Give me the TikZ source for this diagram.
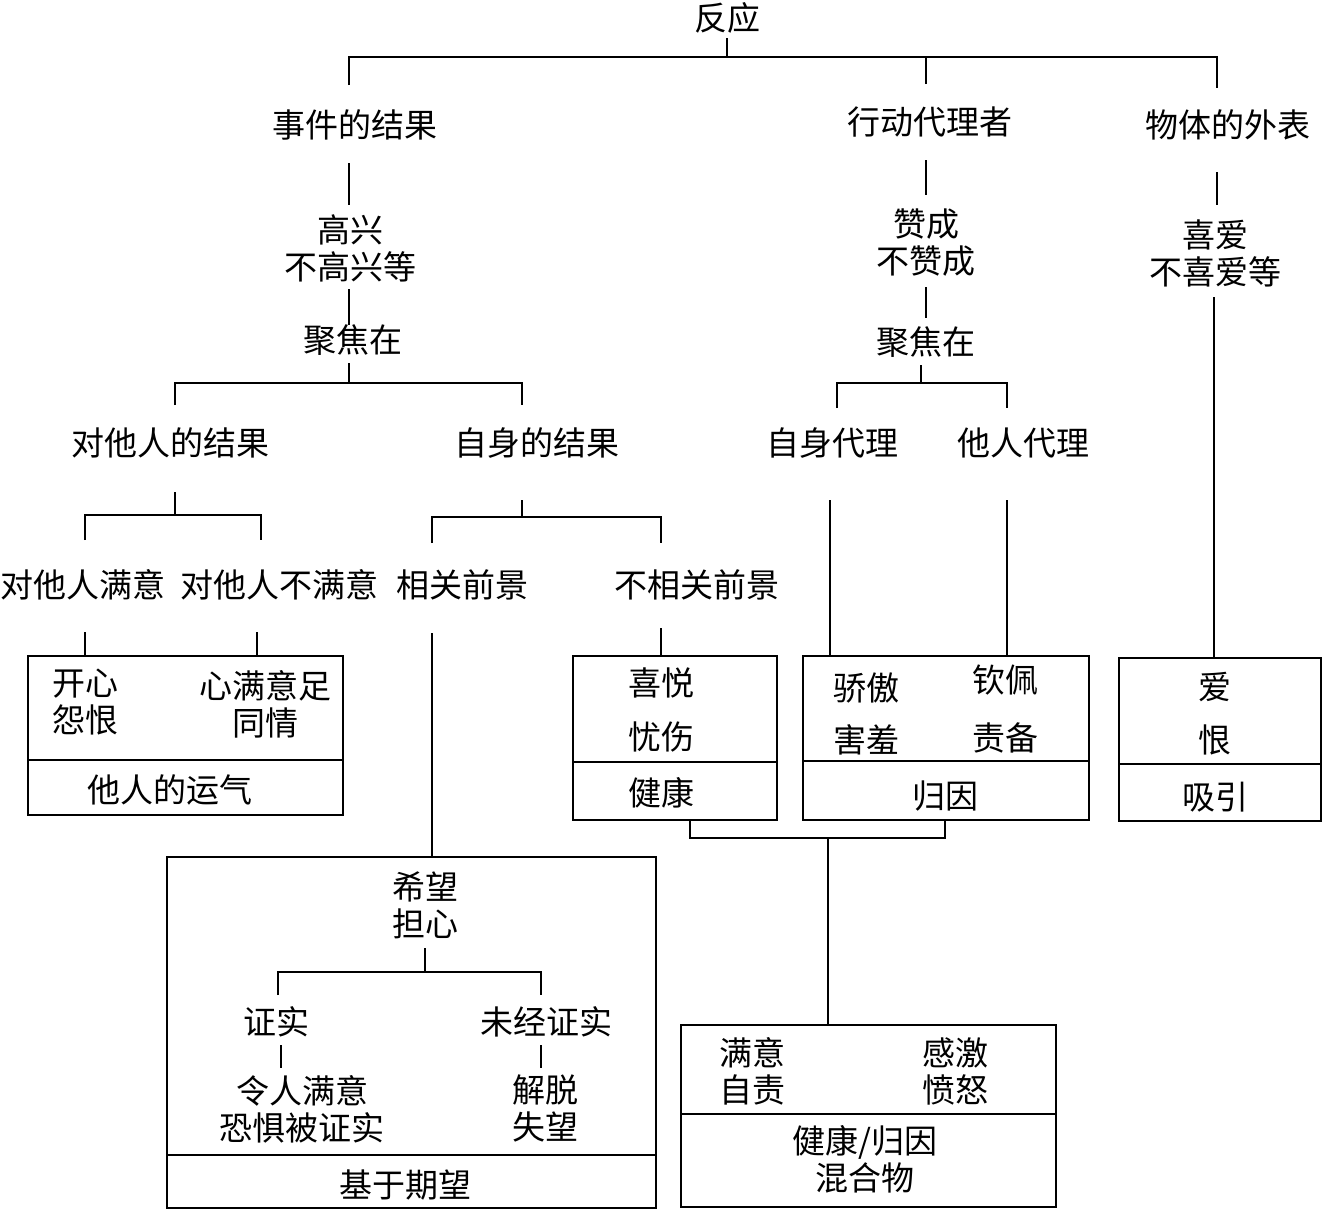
\documentclass[tikz,border=0pt]{standalone}
\usepackage{fontspec}
\setmainfont{Noto Sans CJK SC}
\newcommand\diafont{\fontsize{33}{37}\selectfont}
\begin{document}
\begin{tikzpicture}[x=1pt,y=-1pt,
  txt/.style={font=\diafont,align=center,inner sep=0pt},
  box/.style={draw,line width=2.7pt,inner sep=0pt,outer sep=0pt},
  conn/.style={line width=2.6pt}]
\useasboundingbox (0,0) rectangle (1323,1210);
% ---------- text nodes ----------
\node[txt] (root) at (727,18) {反应};
\node[txt] (ev) at (355,125) {事件的结果};
\node[txt] (ag) at (930,122) {行动代理者};
\node[txt] (ob) at (1228,125) {物体的外表};
\node[txt] (ev2) at (350,248) {高兴\\不高兴等};
\node[txt] (ag2) at (926,243) {赞成\\不赞成};
\node[txt] (ob2) at (1215,253) {喜爱\\不喜爱等};
\node[txt] (ev3) at (353,340) {聚焦在};
\node[txt] (ag3) at (926,342) {聚焦在};
\node[txt] (oth) at (170,443) {对他人的结果};
\node[txt] (self) at (537,443) {自身的结果};
\node[txt] (sa) at (832,443) {自身代理};
\node[txt] (oa) at (1023,443) {他人代理};
\node[txt] (hp) at (83,585) {对他人满意};
\node[txt] (hn) at (279,585) {对他人不满意};
\node[txt] (rp) at (462,585) {相关前景};
\node[txt] (ip) at (697,585) {不相关前景};
% ---------- boxes ----------
\node[box,minimum width=315,minimum height=159] (fb) at (185.5,735.5) {};
\node[box,minimum width=204,minimum height=164] (wb) at (675,738) {};
\node[box,minimum width=286,minimum height=164] (ab) at (946,738) {};
\node[box,minimum width=202,minimum height=163] (lb) at (1220,739.5) {};
\node[box,minimum width=489,minimum height=351] (pb) at (411.5,1032.5) {};
\node[box,minimum width=375,minimum height=182] (cb) at (868.5,1116) {};
\coordinate (fbd) at (0,760);
\coordinate (wbd) at (0,762);
\coordinate (abd) at (0,761);
\coordinate (lbd) at (0,764);
\coordinate (pbd) at (0,1155);
\coordinate (cbd) at (0,1114);
\draw[line width=2.7pt] (fb.west |- fbd) -- (fb.east |- fbd);
\draw[line width=2.7pt] (wb.west |- wbd) -- (wb.east |- wbd);
\draw[line width=2.7pt] (ab.west |- abd) -- (ab.east |- abd);
\draw[line width=2.7pt] (lb.west |- lbd) -- (lb.east |- lbd);
\draw[line width=2.7pt] (pb.west |- pbd) -- (pb.east |- pbd);
\draw[line width=2.7pt] (cb.west |- cbd) -- (cb.east |- cbd);
% box texts
\node[txt] (kx) at (85,702) {开心\\怨恨};
\node[txt] (my) at (265,704) {心满意足\\同情};
\node[txt] (fbl) at (170,790) {他人的运气};
\node[txt] (xy) at (661,683) {喜悦};
\node[txt] (ys) at (661,737) {忧伤};
\node[txt] (wbl) at (661,793) {健康};
\node[txt] (ja) at (866,688) {骄傲};
\node[txt] (hx) at (866,740) {害羞};
\node[txt] (qp) at (1005,680) {钦佩};
\node[txt] (zb) at (1005,738) {责备};
\node[txt] (abl) at (945,796) {归因};
\node[txt] (ai) at (1215,687) {爱};
\node[txt] (hen) at (1215,740) {恨};
\node[txt] (lbl) at (1215,797) {吸引};
\node[txt] (hw) at (425,905) {希望\\担心};
\node[txt] (zs) at (276,1022) {证实};
\node[txt] (wz) at (546,1022) {未经证实};
\node[txt] (lr) at (302,1109) {令人满意\\恐惧被证实};
\node[txt] (jt) at (545,1108) {解脱\\失望};
\node[txt] (pbl) at (405,1185) {基于期望};
\node[txt] (mz) at (752,1071) {满意\\自责};
\node[txt] (gj) at (955,1071) {感激\\愤怒};
\node[txt] (cbl) at (865,1159) {健康/归因\\混合物};
% ---------- connector end points ----------
\coordinate (root-b) at (727,38);
\coordinate (f0) at (0,57);
\coordinate (ev-t) at (349,85);   \coordinate (ev-b) at (349,163);
\coordinate (ag-t) at (926,84);   \coordinate (ag-b) at (926,160);
\coordinate (ob-t) at (1217,88);  \coordinate (ob-b) at (1217,172);
\coordinate (ev2-t) at (349,205); \coordinate (ev2-b) at (349,289);
\coordinate (ag2-t) at (926,195); \coordinate (ag2-b) at (926,287);
\coordinate (ob2-t) at (1217,205); \coordinate (ob2-b) at (1214,297);
\coordinate (ev3-t) at (349,325); \coordinate (ev3-b) at (349,363);
\coordinate (ag3-t) at (926,318); \coordinate (ag3-b) at (921,365);
\coordinate (f1) at (0,383);
\coordinate (oth-t) at (175,405); \coordinate (oth-b) at (175,492);
\coordinate (self-t) at (522,405); \coordinate (self-b) at (522,500);
\coordinate (sa-t) at (837,408);  \coordinate (sa-b) at (830,500);
\coordinate (oa-t) at (1007,408); \coordinate (oa-b) at (1007,500);
\coordinate (f3) at (0,515);
\coordinate (f4) at (0,517);
\coordinate (hp-t) at (85,540);   \coordinate (hp-b) at (85,632);
\coordinate (hn-t) at (261,540);  \coordinate (hn-b) at (257,632);
\coordinate (rp-t) at (432,543);  \coordinate (rp-b) at (432,633);
\coordinate (ip-t) at (661,543);  \coordinate (ip-b) at (661,628);
\coordinate (xw) at (690,0);
\coordinate (xa) at (945,0);
\coordinate (mj) at (828,838);
\coordinate (hw-b) at (425,948);
\coordinate (f5) at (0,972);
\coordinate (zs-t) at (278,995);  \coordinate (zs-b) at (281,1045);
\coordinate (wz-t) at (541,995);  \coordinate (wz-b) at (541,1045);
\coordinate (lr-t) at (281,1068);
\coordinate (jt-t) at (541,1068);
% ---------- connectors ----------
\begin{scope}[conn]
\draw (root-b) -- (root-b |- f0);
\draw (ev-t) |- (ob-t |- f0) -- (ob-t);
\draw (ag-t) -- (ag-t |- f0);
\draw (ev-b) -- (ev2-t);
\draw (ag-b) -- (ag2-t);
\draw (ob-b) -- (ob2-t);
\draw (ev2-b) -- (ev3-t);
\draw (ag2-b) -- (ag3-t);
\draw (ob2-b) -- (lb.north -| ob2-b);
% fork under left 聚焦在
\draw (ev3-b) -- (ev3-b |- f1);
\draw (oth-t) |- (self-t |- f1) -- (self-t);
% fork under right 聚焦在
\draw (ag3-b) -- (ag3-b |- f1);
\draw (sa-t) |- (oa-t |- f1) -- (oa-t);
% fork under 对他人的结果
\draw (oth-b) -- (oth-b |- f3);
\draw (hp-t) |- (hn-t |- f3) -- (hn-t);
% fork under 自身的结果
\draw (self-b) -- (self-b |- f4);
\draw (rp-t) |- (ip-t |- f4) -- (ip-t);
% to boxes
\draw (hp-b) -- (fb.north -| hp-b);
\draw (hn-b) -- (fb.north -| hn-b);
\draw (rp-b) -- (pb.north -| rp-b);
\draw (ip-b) -- (wb.north -| ip-b);
\draw (sa-b) -- (ab.north -| sa-b);
\draw (oa-b) -- (ab.north -| oa-b);
% well-being + attribution -> compound
\draw (wb.south -| xw) |- (mj) -| (ab.south -| xa);
\draw (mj) -- (cb.north -| mj);
% inside prospect box
\draw (hw-b) -- (hw-b |- f5);
\draw (zs-t) |- (wz-t |- f5) -- (wz-t);
\draw (zs-b) -- (lr-t);
\draw (wz-b) -- (jt-t);
\end{scope}
\end{tikzpicture}
\end{document}
